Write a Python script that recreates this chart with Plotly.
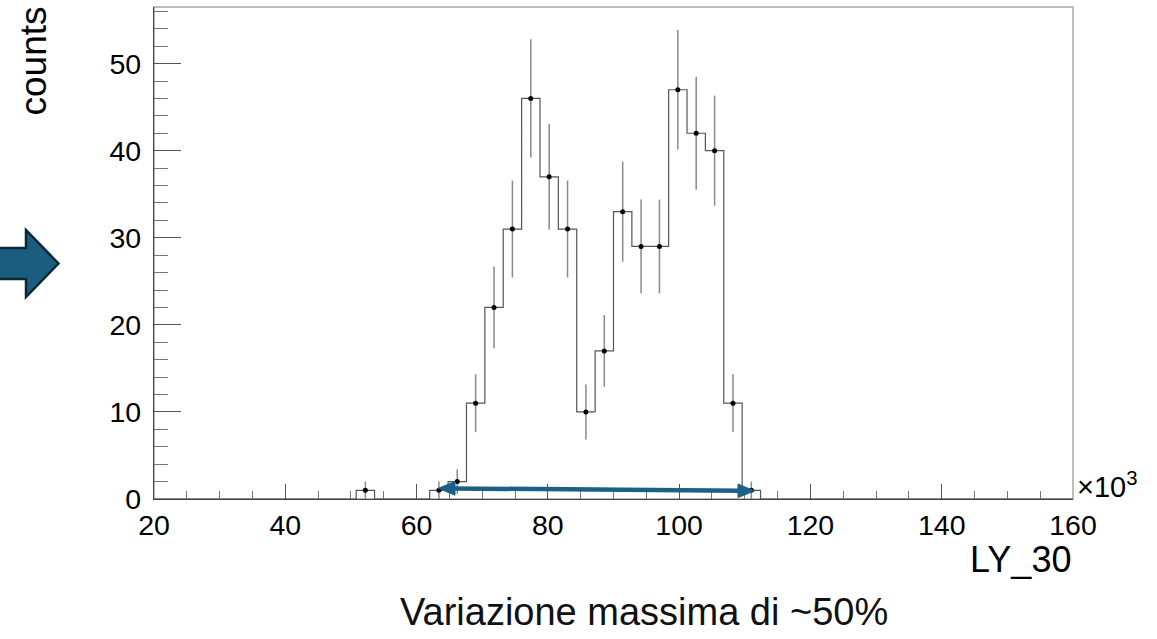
import numpy as np
import plotly.graph_objects as go

# ---------------- data ----------------
x_min, x_max, n_bins = 20, 160, 50          # LY_30 in units of 10^3
counts = [0] * 11 + [1, 0, 0, 0, 1, 2, 11, 22, 31, 46, 37, 31, 10, 17,
                     33, 29, 29, 47, 42, 40, 11, 1] + [0] * 17
x_tick_vals = [20, 40, 60, 80, 100, 120, 140, 160]
y_tick_vals = [0, 10, 20, 30, 40, 50]
y_max = 56.5
x_title = "LY_30"
y_title = "counts"
x_exponent = "×10<sup>3</sup>"
caption = "Variazione massima di ~50%"

# ---------------- derived ----------------
edges = np.linspace(x_min, x_max, n_bins + 1)
centers = 0.5 * (edges[:-1] + edges[1:])
counts_arr = np.array(counts, dtype=float)
nz = counts_arr > 0

W, H = 1157, 639
L, R, T, B = 154, 84, 7, 140
PW, PH = W - L - R, H - T - B


def px(x):
    return (x - L) / PW


def py(y):
    return (H - B - y) / PH


def path(points):
    return "M " + " L ".join(f"{px(a):.5f},{py(b):.5f}" for a, b in points) + " Z"


FONT = "Liberation Sans, Arial, sans-serif"
ARROW_BLUE = "#1B6086"

fig = go.Figure()

# histogram outline
fig.add_trace(go.Scatter(
    x=edges, y=list(counts) + [counts[-1]], mode="lines",
    line=dict(shape="hv", color="#555555", width=1.2),
    hoverinfo="skip", showlegend=False))

# points with sqrt(N) errors
fig.add_trace(go.Scatter(
    x=centers[nz], y=counts_arr[nz], mode="markers",
    marker=dict(color="black", size=5),
    error_y=dict(type="data", array=np.sqrt(counts_arr[nz]),
                 color="#8a8a8a", thickness=1.5, width=0),
    showlegend=False))

shapes = []
# frame
shapes.append(dict(type="rect", xref="paper", yref="paper", x0=0, x1=1, y0=0, y1=1,
                   line=dict(color="#a8a8a8", width=1.5), layer="below"))
# big block arrow on the left
shapes.append(dict(type="path", xref="paper", yref="paper",
                   path=path([(-6, 248), (26, 248), (26, 230), (58.5, 263.5),
                              (26, 297), (26, 279), (-6, 279)]),
                   fillcolor="#1A5D7E", line=dict(color="#0C2636", width=2.5)))
# double arrow
shapes.append(dict(type="line", xref="paper", yref="paper",
                   x0=px(452), y0=py(488.4), x1=px(741), y1=py(490.8),
                   line=dict(color=ARROW_BLUE, width=4.5)))
shapes.append(dict(type="path", xref="paper", yref="paper",
                   path=path([(438.5, 488.3), (455, 481.5), (455, 495.2)]),
                   fillcolor=ARROW_BLUE, line=dict(color=ARROW_BLUE, width=1)))
shapes.append(dict(type="path", xref="paper", yref="paper",
                   path=path([(754.5, 491), (738, 484), (738, 497.5)]),
                   fillcolor=ARROW_BLUE, line=dict(color=ARROW_BLUE, width=1)))

annotations = [
    dict(text=y_title, textangle=-90, xref="paper", yref="paper",
         x=px(33), y=py(4), xanchor="center", yanchor="top", showarrow=False,
         font=dict(family=FONT, size=37, color="black")),
    dict(text=x_title, xref="paper", yref="paper",
         x=px(1073), y=py(559), xanchor="right", yanchor="middle", showarrow=False,
         font=dict(family=FONT, size=36, color="black")),
    dict(text=x_exponent, xref="paper", yref="paper",
         x=px(1075), y=py(485), xanchor="left", yanchor="middle", showarrow=False,
         font=dict(family=FONT, size=29, color="black")),
    dict(text=caption, xref="paper", yref="paper",
         x=px(644), y=py(612), xanchor="center", yanchor="middle", showarrow=False,
         font=dict(family=FONT, size=38, color="#111111")),
]

fig.update_layout(
    width=W, height=H,
    margin=dict(l=L, r=R, t=T, b=B, pad=0),
    paper_bgcolor="white", plot_bgcolor="white",
    shapes=shapes, annotations=annotations,
    font=dict(family=FONT, color="black"),
    xaxis=dict(range=[x_min, x_max], tickvals=x_tick_vals,
               ticks="inside", ticklen=15, tickwidth=1, tickcolor="#555555",
               minor=dict(ticks="inside", ticklen=8, dtick=5, tickwidth=1, tickcolor="#777777"),
               showline=True, linecolor="#444444", linewidth=1.2,
               showgrid=False, zeroline=False, ticklabelstandoff=1,
               tickfont=dict(family=FONT, size=28.5, color="black")),
    yaxis=dict(range=[0, y_max], tickvals=y_tick_vals,
               ticks="inside", ticklen=27, tickwidth=1, tickcolor="#555555",
               minor=dict(ticks="inside", ticklen=14, dtick=2, tickwidth=1, tickcolor="#777777"),
               showline=True, linecolor="#444444", linewidth=1.2,
               showgrid=False, zeroline=False, ticklabelstandoff=6,
               tickfont=dict(family=FONT, size=28.5, color="black")),
)

fig.write_html("out.html")
